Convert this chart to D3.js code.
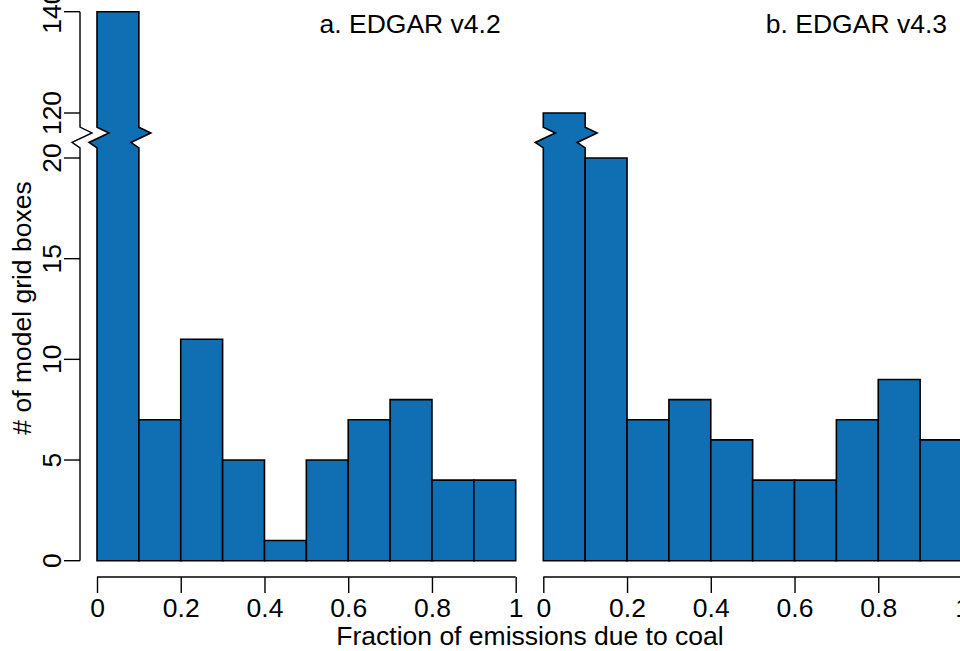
<!DOCTYPE html>
<html>
<head>
<meta charset="utf-8">
<script src="https://cdn.jsdelivr.net/npm/d3@7"></script>
<style>
  body { margin: 0; background: white; }
  text { font-family: "Liberation Sans", Arial, Helvetica, sans-serif; fill: black; }
</style>
</head>
<body>
<div id="chart"></div>
<script>
// histogram data (bin = 0.1 wide)
const binEdges = [0, 0.1, 0.2, 0.3, 0.4, 0.5, 0.6, 0.7, 0.8, 0.9, 1.0];
const countsA = [140, 7, 11, 5, 1, 5, 7, 8, 4, 4];
const countsB = [120, 20, 7, 8, 6, 4, 4, 7, 9, 6];
const titles = ["a. EDGAR v4.2", "b. EDGAR v4.3"];
const xTicks = [0, 0.2, 0.4, 0.6, 0.8, 1];
const yTicksLow = [0, 5, 10, 15, 20];
const yTicksHigh = [120, 140];

let w = 960;
let h = 651;
let fill = "#0F6FB2";
let fs = "26.5px";

const svg = d3.select("#chart")
              .append("svg")
              .attr("width", w)
              .attr("height", h)

// broken y axis: two linear pieces
const yLow = d3.scaleLinear().domain([0, 20]).range([560.7, 158]);
const yHigh = d3.scaleLinear().domain([120, 140]).range([113, 11.7]);
let breakLo = yLow(20.5);   // where the lower piece stops
let breakHi = yHigh(117.2); // where the upper piece starts
let y = (v) => v <= 20.5 ? yLow(v) : yHigh(v);

// zigzag between breakLo and breakHi, offsets in px
let zig = (x) => [[x, breakLo], [x - 8, breakLo - 5.5], [x + 12, breakLo - 15], [x, breakHi]];

const panels = [
  {counts: countsA, title: titles[0], x: d3.scaleLinear().domain([0, 1]).range([97, 515.7])},
  {counts: countsB, title: titles[1], x: d3.scaleLinear().domain([0, 1]).range([543.3, 962])}
];

panels.forEach((p) => {
  const g = svg.append("g");
  let bars = p.counts.map((c, i) => ({x0: binEdges[i], x1: binEdges[i + 1], c: c}));

  g.selectAll("path.bar")
   .data(bars)
   .enter()
   .append("path")
   .attr("class", "bar")
   .attr("d", (d) => {
     let x0 = p.x(d.x0), x1 = p.x(d.x1), yb = y(0), yt = y(d.c);
     if (d.c <= 20.5) {
       return "M" + [[x0, yb], [x0, yt], [x1, yt], [x1, yb]].join("L") + "Z";
     }
     let left = zig(x0);
     let right = zig(x1).reverse();
     let pts = [[x0, yb]].concat(left, [[x0, yt], [x1, yt]], right, [[x1, yb]]);
     return "M" + pts.join("L") + "Z";
   })
   .style("fill", fill)
   .style("stroke", "black")
   .style("stroke-width", 1.6)
   .style("stroke-linejoin", "miter")

  // x axis
  const xAxis = d3.axisBottom(p.x)
                  .tickValues(xTicks)
                  .tickFormat(d3.format("~g"))
                  .tickSize(16)
                  .tickPadding(5)
  const ax = g.append("g")
              .attr("transform", "translate(0,577)")
              .call(xAxis)
  ax.select(".domain").attr("d", "M" + p.x(0) + ",0H" + p.x(1))
  ax.selectAll("path, line").style("stroke", "black").style("stroke-width", 1.4)
  ax.selectAll("text").style("font-size", fs).attr("dy", "0.71em")

  g.append("text")
   .attr("x", p.x(1) - 15)
   .attr("y", 33)
   .attr("text-anchor", "end")
   .style("font-size", fs)
   .text(p.title)
});

// y axis (left panel only)
const yg = svg.append("g");
let zy = zig(80);
yg.append("path")
  .attr("d", "M80," + yLow(0) + "L" + zy.join("L") + "L80," + yHigh(140))
  .style("fill", "none")
  .style("stroke", "black")
  .style("stroke-width", 1.4)

let yTickData = yTicksLow.map((v) => ({v: v, py: yLow(v)}))
                .concat(yTicksHigh.map((v) => ({v: v, py: yHigh(v)})));

yg.selectAll("line.tick")
  .data(yTickData)
  .enter()
  .append("line")
  .attr("x1", 64)
  .attr("x2", 80)
  .attr("y1", (d) => d.py)
  .attr("y2", (d) => d.py)
  .style("stroke", "black")
  .style("stroke-width", 1.4)

yg.selectAll("text.tick")
  .data(yTickData)
  .enter()
  .append("text")
  .attr("transform", (d) => "translate(61," + d.py + ") rotate(-90)")
  .attr("text-anchor", "middle")
  .style("font-size", fs)
  .text((d) => d.v)

svg.append("text")
   .attr("transform", "translate(31,308) rotate(-90)")
   .attr("text-anchor", "middle")
   .style("font-size", fs)
   .text("# of model grid boxes")

svg.append("text")
   .attr("x", 530)
   .attr("y", 645)
   .attr("text-anchor", "middle")
   .style("font-size", fs)
   .text("Fraction of emissions due to coal")
</script>
</body>
</html>
